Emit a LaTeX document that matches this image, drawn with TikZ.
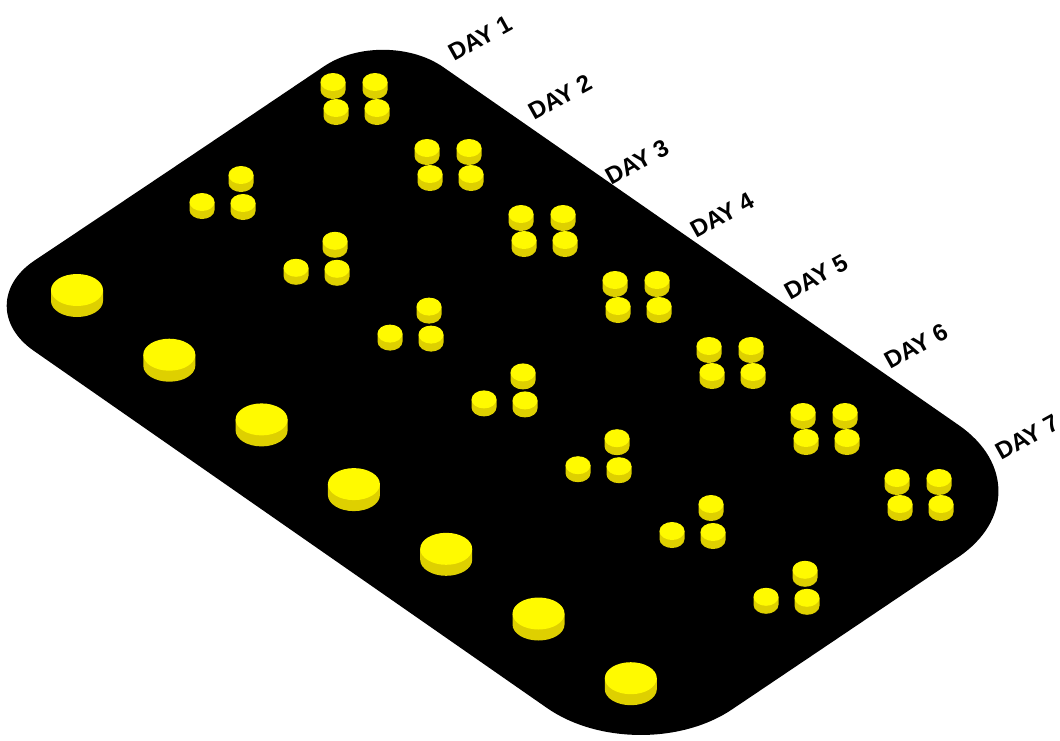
\documentclass[tikz,border=0pt]{standalone}
\usepackage{fontspec}
\setmainfont{Liberation Sans}
\usepackage{tikz}
\definecolor{pillyellow}{RGB}{255,250,0}
\definecolor{pillshade}{RGB}{222,208,0}

\begin{document}
\begin{tikzpicture}[x=1pt, y=-1pt,
    tray/.style = {fill=black},
    pilltop/.style = {fill=pillyellow},
    pillside/.style = {fill=pillshade},
    day/.style = {font=\bfseries\fontsize{24}{24}\selectfont, rotate=29, inner sep=0pt},
    bigpill/.pic = {
        \fill[pillside] (-26,0) -- (-26,11) arc[start angle=180, end angle=0, x radius=26, y radius=16] -- (26,0) -- cycle;
        \fill[pilltop] (0,0) ellipse[x radius=26, y radius=16];
    },
    smallpill/.pic = {
        \fill[pillside] (-12.5,0) -- (-12.5,8) arc[start angle=180, end angle=0, x radius=12.5, y radius=9] -- (12.5,0) -- cycle;
        \fill[pilltop] (0,0) ellipse[x radius=12.5, y radius=9];
    }]
    \useasboundingbox (0,0) rectangle (1060,740);

    \fill[tray] (176,166) [rounded corners=72] -- (384,26) [rounded corners=117] -- (1055,492) [rounded corners=112] -- (639,772) [rounded corners=80] -- (-32,305) -- cycle;

    \foreach \d in {0,...,6} {
        \pic at ({77+92.3*\d},{290+64.7*\d}) {bigpill};

        \pic at ({202+94*\d},{202+65.8*\d}) {smallpill};
        \pic at ({241+94*\d},{175+65.8*\d}) {smallpill};
        \pic at ({243+94*\d},{203+65.8*\d}) {smallpill};

        \pic at ({333+94*\d},{82+66*\d}) {smallpill};
        \pic at ({375+94*\d},{82+66*\d}) {smallpill};
        \pic at ({336+94*\d},{108+66*\d}) {smallpill};
        \pic at ({377+94*\d},{108+66*\d}) {smallpill};
    }

    \node[day] (day1) at (480,38) {DAY 1};
    \node[day] (day2) at (560,97) {DAY 2};
    \node[day] (day3) at (637,162) {DAY 3};
    \node[day] (day4) at (722,215) {DAY 4};
    \node[day] (day5) at (816,277) {DAY 5};
    \node[day] (day6) at (916,346) {DAY 6};
    \node[day] (day7) at (1027,437) {DAY 7};
\end{tikzpicture}
\end{document}
